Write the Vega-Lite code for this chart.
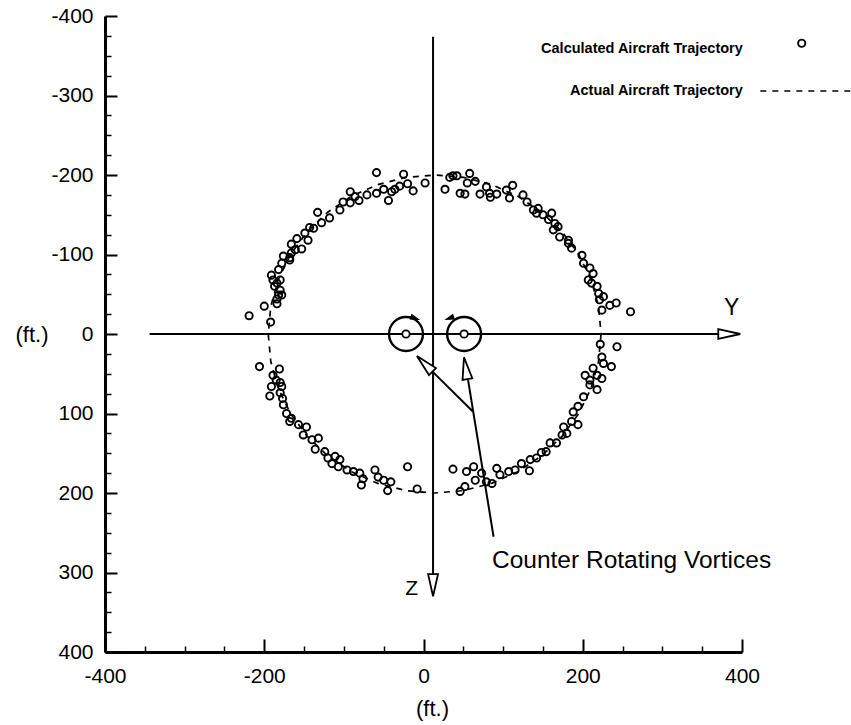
{
  "$schema": "https://vega.github.io/schema/vega-lite/v6.json",
  "width": 637,
  "height": 636,
  "autosize": "none",
  "padding": {"left": 105, "top": 16, "right": 109, "bottom": 73},
  "background": "white",
  "config": {"view": {"stroke": null}, "font": "Liberation Sans"},
  "datasets": {
    "calc": [
      {"x":-59,"y":-203},{"x":-25,"y":-201},{"x":2,"y":-190},{"x":-13,"y":-180},{"x":-20,"y":-189},{"x":-30,"y":-186},{"x":-36,"y":-182},{"x":-40,"y":-179},{"x":-44,"y":-168},{"x":-50,"y":-182},
      {"x":-59,"y":-177},{"x":-71,"y":-175},{"x":-81,"y":-168},{"x":-86,"y":-173},{"x":-92,"y":-179},{"x":-92,"y":-165},{"x":-101,"y":-166},{"x":-105,"y":-156},{"x":-118,"y":-146},{"x":-128,"y":-140},
      {"x":-133,"y":-153},{"x":-138,"y":-133},{"x":-143,"y":-134},{"x":-149,"y":-127},{"x":-145,"y":-118},{"x":-159,"y":-120},{"x":-166,"y":-113},{"x":-153,"y":-107},{"x":-161,"y":-106},{"x":-176,"y":-98},
      {"x":-168,"y":-96},{"x":27,"y":-182},{"x":33,"y":-197},{"x":37,"y":-199},{"x":42,"y":-199},{"x":58,"y":-202},{"x":55,"y":-190},{"x":65,"y":-192},{"x":46,"y":-177},{"x":52,"y":-176},
      {"x":71,"y":-176},{"x":79,"y":-185},{"x":83,"y":-177},{"x":84,"y":-172},{"x":92,"y":-176},{"x":104,"y":-181},{"x":112,"y":-187},{"x":108,"y":-171},{"x":125,"y":-175},{"x":130,"y":-166},
      {"x":138,"y":-156},{"x":144,"y":-158},{"x":142,"y":-152},{"x":150,"y":-150},{"x":161,"y":-152},{"x":157,"y":-144},{"x":165,"y":-139},{"x":169,"y":-135},{"x":163,"y":-131},{"x":171,"y":-122},
      {"x":182,"y":-118},{"x":186,"y":-108},{"x":182,"y":-114},{"x":-166,"y":-102},{"x":-168,"y":-93},{"x":-178,"y":-89},{"x":-182,"y":-81},{"x":-191,"y":-74},{"x":-189,"y":-68},{"x":-184,"y":-64},
      {"x":-180,"y":-68},{"x":-187,"y":-60},{"x":-180,"y":-55},{"x":-182,"y":-49},{"x":-178,"y":-49},{"x":-184,"y":-44},{"x":-184,"y":-38},{"x":-200,"y":-35},{"x":-219,"y":-23},{"x":-192,"y":-15},
      {"x":-206,"y":41},{"x":-181,"y":44},{"x":-189,"y":52},{"x":-185,"y":58},{"x":-180,"y":61},{"x":-191,"y":66},{"x":-178,"y":66},{"x":-180,"y":74},{"x":-193,"y":78},{"x":-177,"y":81},
      {"x":-176,"y":89},{"x":-172,"y":100},{"x":-166,"y":106},{"x":-168,"y":110},{"x":-157,"y":114},{"x":-147,"y":117},{"x":-151,"y":127},{"x":-140,"y":133},{"x":-132,"y":131},{"x":-136,"y":145},
      {"x":-124,"y":148},{"x":-120,"y":156},{"x":-111,"y":154},{"x":-105,"y":158},{"x":-115,"y":163},{"x":-107,"y":167},{"x":-96,"y":171},{"x":-88,"y":173},{"x":-80,"y":175},{"x":-76,"y":182},
      {"x":-78,"y":190},{"x":-61,"y":171},{"x":-57,"y":180},{"x":-50,"y":184},{"x":-41,"y":186},{"x":-45,"y":197},{"x":-20,"y":167},{"x":-8,"y":195},{"x":37,"y":170},{"x":46,"y":198},
      {"x":52,"y":192},{"x":54,"y":173},{"x":63,"y":167},{"x":65,"y":184},{"x":73,"y":175},{"x":79,"y":186},{"x":86,"y":188},{"x":92,"y":169},{"x":96,"y":177},{"x":107,"y":173},
      {"x":115,"y":171},{"x":123,"y":163},{"x":134,"y":158},{"x":133,"y":172},{"x":142,"y":156},{"x":148,"y":149},{"x":154,"y":148},{"x":159,"y":137},{"x":167,"y":137},{"x":174,"y":127},
      {"x":180,"y":125},{"x":176,"y":117},{"x":186,"y":110},{"x":194,"y":114},{"x":199,"y":-99},{"x":201,"y":-89},{"x":209,"y":-83},{"x":213,"y":-76},{"x":207,"y":-68},{"x":211,"y":-64},
      {"x":218,"y":-60},{"x":220,"y":-51},{"x":226,"y":-47},{"x":221,"y":-43},{"x":234,"y":-36},{"x":242,"y":-39},{"x":224,"y":-30},{"x":260,"y":-28},{"x":222,"y":13},{"x":243,"y":16},
      {"x":224,"y":29},{"x":226,"y":37},{"x":236,"y":41},{"x":213,"y":43},{"x":203,"y":52},{"x":218,"y":52},{"x":224,"y":56},{"x":209,"y":58},{"x":218,"y":70},{"x":209,"y":64},
      {"x":201,"y":79},{"x":194,"y":91},{"x":188,"y":98}
    ],
    "traj": [
      {"i":0,"x":223,"y":0},{"i":1,"x":219.8,"y":34.7},{"i":2,"x":210.4,"y":68.4},{"i":3,"x":195,"y":100},{"i":4,"x":174.1,"y":128.6},{"i":5,"x":148.3,"y":153.2},{"i":6,"x":118.5,"y":173.2},{"i":7,"x":85.5,"y":187.9},{"i":8,"x":50.3,"y":197},{"i":9,"x":14,"y":200},
      {"i":10,"x":-22.3,"y":197},{"i":11,"x":-57.5,"y":187.9},{"i":12,"x":-90.5,"y":173.2},{"i":13,"x":-120.3,"y":153.2},{"i":14,"x":-146.1,"y":128.6},{"i":15,"x":-167,"y":100},{"i":16,"x":-182.4,"y":68.4},{"i":17,"x":-191.8,"y":34.7},{"i":18,"x":-195,"y":0},
      {"i":19,"x":-191.8,"y":-34.7},{"i":20,"x":-182.4,"y":-68.4},{"i":21,"x":-167,"y":-100},{"i":22,"x":-146.1,"y":-128.6},{"i":23,"x":-120.3,"y":-153.2},{"i":24,"x":-90.5,"y":-173.2},{"i":25,"x":-57.5,"y":-187.9},{"i":26,"x":-22.3,"y":-197},{"i":27,"x":14,"y":-200},
      {"i":28,"x":50.3,"y":-197},{"i":29,"x":85.5,"y":-187.9},{"i":30,"x":118.5,"y":-173.2},{"i":31,"x":148.3,"y":-153.2},{"i":32,"x":174.1,"y":-128.6},{"i":33,"x":195,"y":-100},{"i":34,"x":210.4,"y":-68.4},{"i":35,"x":219.8,"y":-34.7},{"i":36,"x":223,"y":0}
    ],
    "segments": [
      {"x":-344,"y":0,"x2":372,"y2":0},
      {"x":12,"y":-374,"x2":12,"y2":302},
      {"x":56,"y":58,"x2":88,"y2":255},
      {"x":11,"y":47,"x2":62,"y2":97.5}
    ],
    "arrows": [
      {"x":384,"y":0,"dir":90},
      {"x":12,"y":316,"dir":180},
      {"x":53,"y":43,"dir":351},
      {"x":1.5,"y":37.5,"dir":315}
    ],
    "spin": [
      {"x":-11,"y":-20,"dir":110},
      {"x":33,"y":-20,"dir":250}
    ],
    "vortex": [
      {"x":-22,"y":0},
      {"x":51,"y":0}
    ]
  },
  "resolve": {"axis": {"x": "independent", "y": "independent"}},
  "layer": [
    {
      "data": {"name": "traj"},
      "mark": {"type": "line", "stroke": "black", "strokeWidth": 1.7, "strokeDash": [6, 6]},
      "encoding": {
        "x": {"field": "x", "type": "quantitative", "scale": {"domain": [-400, 400], "nice": false, "zero": false},
          "axis": {"orient": "bottom", "values": [-400, -200, 0, 200, 400], "domain": false, "labels": false, "ticks": true, "tickSize": -13, "tickWidth": 2, "tickColor": "black", "grid": false, "title": null}},
        "y": {"field": "y", "type": "quantitative", "scale": {"domain": [-400, 400], "nice": false, "zero": false, "reverse": true},
          "axis": {"orient": "left", "values": [-400, -300, -200, -100, 0, 100, 200, 300, 400], "domain": false, "labels": false, "ticks": true, "tickSize": -12, "tickWidth": 2, "tickColor": "black", "grid": false, "title": null}},
        "order": {"field": "i", "type": "quantitative"}
      }
    },
    {
      "data": {"name": "segments"},
      "mark": {"type": "rule", "stroke": "black", "strokeWidth": 2},
      "encoding": {
        "x": {"field": "x", "type": "quantitative", "scale": {"domain": [-400, 400], "nice": false, "zero": false},
          "axis": {"orient": "bottom", "values": [-350, -300, -250, -150, -100, -50, 50, 100, 150, 250, 300, 350], "domain": false, "labels": false, "ticks": true, "tickSize": -6, "tickWidth": 1.5, "tickColor": "black", "grid": false, "title": null}},
        "y": {"field": "y", "type": "quantitative", "scale": {"domain": [-400, 400], "nice": false, "zero": false, "reverse": true},
          "axis": {"orient": "left", "values": [-375, -350, -325, -275, -250, -225, -175, -150, -125, -75, -50, -25, 25, 50, 75, 125, 150, 175, 225, 250, 275, 325, 350, 375], "domain": false, "labels": false, "ticks": true, "tickSize": -6, "tickWidth": 1.5, "tickColor": "black", "grid": false, "title": null}},
        "x2": {"field": "x2"},
        "y2": {"field": "y2"}
      }
    },
    {
      "data": {"name": "arrows"},
      "mark": {"type": "point", "shape": "M0,-1L0.45,1L-0.45,1Z", "filled": true, "fill": "white", "stroke": "black", "strokeWidth": 1.8, "size": 484, "opacity": 1},
      "encoding": {
        "x": {"field": "x", "type": "quantitative", "scale": {"domain": [-400, 400], "nice": false, "zero": false}, "axis": null},
        "y": {"field": "y", "type": "quantitative", "scale": {"domain": [-400, 400], "nice": false, "zero": false, "reverse": true}, "axis": null},
        "angle": {"field": "dir", "type": "quantitative", "scale": null}
      }
    },
    {
      "data": {"name": "spin"},
      "mark": {"type": "point", "shape": "M0,-1L0.6,1L-0.6,1Z", "filled": true, "fill": "black", "stroke": "black", "strokeWidth": 1, "size": 64, "opacity": 1},
      "encoding": {
        "x": {"field": "x", "type": "quantitative", "scale": {"domain": [-400, 400], "nice": false, "zero": false}, "axis": null},
        "y": {"field": "y", "type": "quantitative", "scale": {"domain": [-400, 400], "nice": false, "zero": false, "reverse": true}, "axis": null},
        "angle": {"field": "dir", "type": "quantitative", "scale": null}
      }
    },
    {
      "data": {"name": "vortex"},
      "mark": {"type": "point", "shape": "circle", "filled": false, "stroke": "black", "strokeWidth": 2.4, "size": 1150, "opacity": 1},
      "encoding": {
        "x": {"field": "x", "type": "quantitative", "scale": {"domain": [-400, 400], "nice": false, "zero": false}, "axis": null},
        "y": {"field": "y", "type": "quantitative", "scale": {"domain": [-400, 400], "nice": false, "zero": false, "reverse": true}, "axis": null}
      }
    },
    {
      "data": {"name": "vortex"},
      "mark": {"type": "point", "shape": "circle", "filled": true, "fill": "white", "stroke": "black", "strokeWidth": 1.8, "size": 55, "opacity": 1},
      "encoding": {
        "x": {"field": "x", "type": "quantitative", "scale": {"domain": [-400, 400], "nice": false, "zero": false}, "axis": null},
        "y": {"field": "y", "type": "quantitative", "scale": {"domain": [-400, 400], "nice": false, "zero": false, "reverse": true}, "axis": null}
      }
    },
    {
      "data": {"name": "calc"},
      "mark": {"type": "point", "shape": "circle", "filled": false, "stroke": "black", "strokeWidth": 1.9, "size": 52, "opacity": 1},
      "encoding": {
        "x": {"field": "x", "type": "quantitative", "scale": {"domain": [-400, 400], "nice": false, "zero": false},
          "axis": {"orient": "bottom", "values": [-400, -200, 0, 200, 400], "labelExpr": "'' + datum.value", "ticks": false, "grid": false, "domain": true, "domainColor": "black", "domainWidth": 3, "labelFont": "Liberation Sans", "labelFontSize": 21, "labelColor": "black", "labelPadding": 13, "labelFlush": false, "labelOverlap": false,
            "title": "(ft.)", "titleFont": "Liberation Sans", "titleFontSize": 22, "titleFontWeight": "normal", "titleColor": "black", "titleX": 327, "titleY": 56, "titleBaseline": "middle", "titleAlign": "center"}},
        "y": {"field": "y", "type": "quantitative", "scale": {"domain": [-400, 400], "nice": false, "zero": false, "reverse": true},
          "axis": {"orient": "left", "values": [-400, -300, -200, -100, 0, 100, 200, 300, 400], "labelExpr": "'' + datum.value", "ticks": false, "grid": false, "domain": true, "domainColor": "black", "domainWidth": 3, "labelFont": "Liberation Sans", "labelFontSize": 21, "labelColor": "black", "labelPadding": 12, "labelFlush": false, "labelOverlap": false,
            "title": "(ft.)", "titleFont": "Liberation Sans", "titleFontSize": 22, "titleFontWeight": "normal", "titleColor": "black", "titleAngle": 0, "titleX": -57, "titleY": 318, "titleAlign": "right", "titleBaseline": "middle"}}
      }
    },
    {
      "data": {"values": [{"x": 86, "y": 294, "label": "Counter Rotating Vortices"}]},
      "mark": {"type": "text", "font": "Liberation Sans", "fontSize": 24.5, "align": "left", "baseline": "alphabetic", "color": "black"},
      "encoding": {
        "x": {"field": "x", "type": "quantitative", "scale": {"domain": [-400, 400], "nice": false, "zero": false}, "axis": null},
        "y": {"field": "y", "type": "quantitative", "scale": {"domain": [-400, 400], "nice": false, "zero": false, "reverse": true}, "axis": null},
        "text": {"field": "label"}
      }
    },
    {
      "data": {"values": [{"x": -15, "y": 328, "label": "Z"}]},
      "mark": {"type": "text", "font": "Liberation Sans", "fontSize": 21, "align": "center", "baseline": "alphabetic", "color": "black"},
      "encoding": {
        "x": {"field": "x", "type": "quantitative", "scale": {"domain": [-400, 400], "nice": false, "zero": false}, "axis": null},
        "y": {"field": "y", "type": "quantitative", "scale": {"domain": [-400, 400], "nice": false, "zero": false, "reverse": true}, "axis": null},
        "text": {"field": "label"}
      }
    },
    {
      "data": {"values": [{"x": 387, "y": -24, "label": "Y"}]},
      "mark": {"type": "text", "font": "Liberation Sans", "fontSize": 23, "align": "center", "baseline": "alphabetic", "color": "black"},
      "encoding": {
        "x": {"field": "x", "type": "quantitative", "scale": {"domain": [-400, 400], "nice": false, "zero": false}, "axis": null},
        "y": {"field": "y", "type": "quantitative", "scale": {"domain": [-400, 400], "nice": false, "zero": false, "reverse": true}, "axis": null},
        "text": {"field": "label"}
      }
    },
    {
      "data": {"values": [
        {"x": 401, "y": -353.5, "label": "Calculated Aircraft Trajectory"},
        {"x": 401, "y": -300.6, "label": "Actual Aircraft Trajectory"}
      ]},
      "mark": {"type": "text", "font": "Liberation Sans", "fontSize": 14.5, "fontWeight": "bold", "align": "right", "baseline": "alphabetic", "color": "black"},
      "encoding": {
        "x": {"field": "x", "type": "quantitative", "scale": {"domain": [-400, 400], "nice": false, "zero": false}, "axis": null},
        "y": {"field": "y", "type": "quantitative", "scale": {"domain": [-400, 400], "nice": false, "zero": false, "reverse": true}, "axis": null},
        "text": {"field": "label"}
      }
    },
    {
      "data": {"values": [{"x": 475, "y": -365.7}]},
      "mark": {"type": "point", "shape": "circle", "filled": false, "stroke": "black", "strokeWidth": 1.9, "size": 52, "opacity": 1},
      "encoding": {
        "x": {"field": "x", "type": "quantitative", "scale": {"domain": [-400, 400], "nice": false, "zero": false}, "axis": null},
        "y": {"field": "y", "type": "quantitative", "scale": {"domain": [-400, 400], "nice": false, "zero": false, "reverse": true}, "axis": null}
      }
    },
    {
      "data": {"values": [{"x": 423, "y": -305.7, "x2": 537}]},
      "mark": {"type": "rule", "stroke": "black", "strokeWidth": 1.5, "strokeDash": [6, 6]},
      "encoding": {
        "x": {"field": "x", "type": "quantitative", "scale": {"domain": [-400, 400], "nice": false, "zero": false}, "axis": null},
        "y": {"field": "y", "type": "quantitative", "scale": {"domain": [-400, 400], "nice": false, "zero": false, "reverse": true}, "axis": null},
        "x2": {"field": "x2"}
      }
    }
  ]
}
